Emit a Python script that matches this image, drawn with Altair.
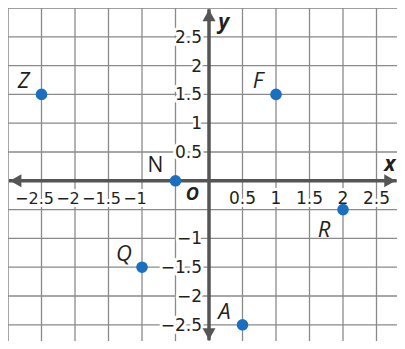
import altair as alt
import pandas as pd

# ---- data ----
grid_x = [-3, -2.5, -2, -1.5, -1, -0.5, 0, 0.5, 1, 1.5, 2, 2.5]
grid_y = [3, 2.5, 2, 1.5, 1, 0.5, 0, -0.5, -1, -1.5, -2, -2.5]

xtick_neg = [-2.5, -2, -1.5, -1]
xtick_neg_text = ["−2.5", "−2", "−1.5", "−1"]
xtick_pos = [0.5, 1, 1.5, 2, 2.5]
xtick_pos_text = ["0.5", "1", "1.5", "2", "2.5"]
ytick_vals = [2.5, 2, 1.5, 1, 0.5, -1, -1.5, -2, -2.5]
ytick_text = ["2.5", "2", "1.5", "1", "0.5", "−1", "−1.5", "−2", "−2.5"]

pt_names = ["Z", "F", "N", "R", "Q", "A"]
pt_x = [-2.5, 1, -0.5, 2, -1, 0.5]
pt_y = [1.5, 1.5, 0, -0.5, -1.5, -2.5]

# axis extents (arrow tips) and origin label
x_axis_ends = [-2.985, 2.8]
y_axis_ends = [-2.77, 2.98]
origin_label = [{"x": -0.25, "y": -0.24, "t": "O"}]

W, H = 389, 333
XMIN, XMAX = -3, -3 + W / 67.0
YMAX = 3.0
YMIN = YMAX - H / 57.6

xs = alt.Scale(domain=[XMIN, XMAX], nice=False, zero=False)
ys = alt.Scale(domain=[YMIN, YMAX], nice=False, zero=False)

GRID = "#8a8a8a"
AXC = "#555555"
TXT = "#231f20"
BLUE = "#1a6fc0"

df_gx = pd.DataFrame({"x": grid_x})
df_gy = pd.DataFrame({"y": grid_y})
df_xn = pd.DataFrame({"x": xtick_neg, "t": xtick_neg_text, "y": [0] * len(xtick_neg)})
df_xp = pd.DataFrame({"x": xtick_pos, "t": xtick_pos_text, "y": [0] * len(xtick_pos)})
df_yt = pd.DataFrame({"y": ytick_vals, "t": ytick_text, "x": [0] * len(ytick_vals)})
df_pts = pd.DataFrame({"name": pt_names, "x": pt_x, "y": pt_y})
df_xax = pd.DataFrame({"x": [x_axis_ends[0]], "x2": [x_axis_ends[1]], "y": [0]})
df_yax = pd.DataFrame({"y": [y_axis_ends[0]], "y2": [y_axis_ends[1]], "x": [0]})
df_arr = pd.DataFrame({
    "x": [x_axis_ends[0] + 0.1, x_axis_ends[1] - 0.1, 0, 0],
    "y": [0, 0, y_axis_ends[1] - 0.11, y_axis_ends[0] + 0.11],
    "shape": ["triangle-left", "triangle-right", "triangle-up", "triangle-down"],
})
df_o = pd.DataFrame(origin_label)
df_axlab = pd.DataFrame({"x": [2.7, 0.22], "y": [0.27, 2.74], "t": ["x", "y"]})

X = lambda f="x": alt.X(f"{f}:Q", scale=xs, axis=None)
Y = lambda f="y": alt.Y(f"{f}:Q", scale=ys, axis=None)

vgrid = alt.Chart(df_gx).mark_rule(color=GRID, strokeWidth=1.3).encode(
    x=X(), y=alt.value(-2), y2=alt.value(H + 2))
hgrid = alt.Chart(df_gy).mark_rule(color=GRID, strokeWidth=1.3).encode(
    y=Y(), x=alt.value(-2), x2=alt.value(W + 2))

TFONT = "DejaVu Sans"

def halo_text(df, fs=17, **kw):
    base = dict(font=TFONT, fontSize=fs, **kw)
    bg = alt.Chart(df).mark_text(color="white", stroke="white", strokeWidth=6,
                                 strokeJoin="round", **base)
    fg = alt.Chart(df).mark_text(color=TXT, **base)
    enc = dict(x=X(), y=Y(), text="t:N")
    return bg.encode(**enc) + fg.encode(**enc)

xneg = halo_text(df_xn, fs=16, align="center", baseline="middle", dx=-7, dy=18)
xpos = halo_text(df_xp, align="center", baseline="middle", dy=18)
ylab = halo_text(df_yt, align="right", baseline="middle", dx=-7, dy=1)

xaxis = alt.Chart(df_xax).mark_rule(color=AXC, strokeWidth=3.5).encode(
    x=X(), x2="x2:Q", y=Y())
yaxis = alt.Chart(df_yax).mark_rule(color=AXC, strokeWidth=3.5).encode(
    y=Y(), y2="y2:Q", x=X())
arrows = alt.Chart(df_arr).mark_point(filled=True, color=AXC, size=170, opacity=1).encode(
    x=X(), y=Y(), shape=alt.Shape("shape:N", scale=None, legend=None))

axlab = alt.Chart(df_axlab).mark_text(
    font="Open Sans", fontSize=21, fontStyle="italic", fontWeight="bold",
    color=TXT, align="center", baseline="middle").encode(x=X(), y=Y(), text="t:N")

olab = alt.Chart(df_o).mark_text(
    font="Open Sans", fontSize=18, fontStyle="italic", fontWeight="bold",
    color=TXT, align="center", baseline="middle").encode(x=X(), y=Y(), text="t:N")

dots = alt.Chart(df_pts).mark_circle(color=BLUE, size=135, opacity=1).encode(x=X(), y=Y())

lab_ul = alt.Chart(df_pts).transform_filter(
    alt.FieldOneOfPredicate(field="name", oneOf=["Z", "F", "Q", "A"])
).mark_text(font="Open Sans", fontSize=22, fontStyle="italic", color=TXT,
            align="center", baseline="middle", dx=-18, dy=-13).encode(
    x=X(), y=Y(), text="name:N")
lab_r = alt.Chart(df_pts).transform_filter(
    alt.FieldEqualPredicate(field="name", equal="R")
).mark_text(font="Open Sans", fontSize=22, fontStyle="italic", color=TXT,
            align="center", baseline="middle", dx=-19, dy=20).encode(
    x=X(), y=Y(), text="name:N")
lab_n = alt.Chart(df_pts).transform_filter(
    alt.FieldEqualPredicate(field="name", equal="N")
).mark_text(font="Open Sans", fontSize=21, color=TXT,
            align="center", baseline="middle", dx=-20, dy=-15).encode(
    x=X(), y=Y(), text="name:N")

chart = alt.layer(
    vgrid, hgrid, xneg, xpos, ylab, xaxis, yaxis, arrows, axlab, olab,
    dots, lab_ul, lab_r, lab_n
).properties(
    width=W, height=H, padding=0,
    autosize=alt.AutoSizeParams(type="none"),
).configure_view(stroke=None).configure(background="white")

chart.save("out.html", embed_options={"renderer": "svg", "actions": False})
